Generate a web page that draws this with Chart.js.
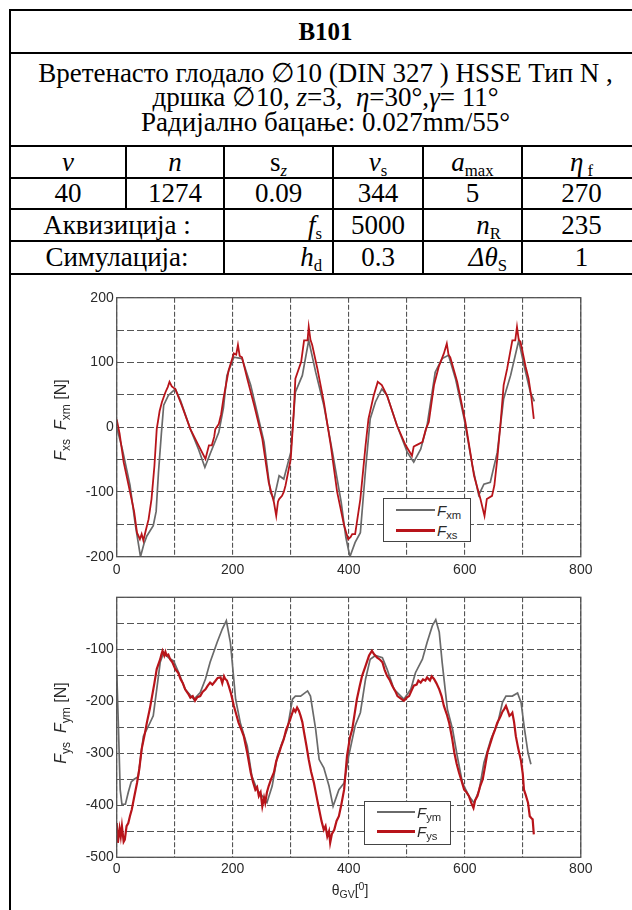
<!DOCTYPE html>
<html><head><meta charset="utf-8">
<script src="https://cdn.jsdelivr.net/npm/chart.js@4.4.1/dist/chart.umd.min.js"></script>
<style>
html,body{margin:0;padding:0;background:#fff;}
body{width:632px;height:910px;overflow:hidden;position:relative;font-family:"Liberation Serif","Times New Roman",serif;color:#000;}
.cell{position:absolute;box-sizing:border-box;border-left:2px solid #000;border-top:2px solid #000;display:flex;align-items:center;justify-content:center;font-size:27px;white-space:nowrap;line-height:1;}
.r{justify-content:flex-end;}
.cell sub{font-size:62%;vertical-align:-0.3em;line-height:0;}
.desc{flex-direction:column;line-height:24.5px;text-align:center;padding-bottom:4px;}
.ovl{position:absolute;font-family:"Liberation Sans",Arial,sans-serif;color:#2a2a2a;white-space:nowrap;}
.ovl sub{font-size:75%;vertical-align:-0.3em;line-height:0;}
.ytitle{font-size:16px;transform:translate(-50%,-50%) rotate(-90deg);}
.leg{position:absolute;box-sizing:border-box;border:1px solid #444;background:#fff;}
.ll{position:absolute;height:2px;}
.lt{position:absolute;font-family:"Liberation Sans",Arial,sans-serif;font-size:15px;color:#2a2a2a;transform:translateY(-50%);white-space:nowrap;}
.lt sub{font-size:75%;vertical-align:-0.3em;line-height:0;}
canvas{position:absolute;}
</style>
</head>
<body>
<div id="tbl"></div>
<canvas id="c1" width="600" height="300" style="left:12px;top:282px;"></canvas>
<canvas id="c2" width="600" height="300" style="left:12px;top:582px;"></canvas>

<div class="ovl ytitle" style="left:61px;top:420px;"><i>F</i><sub>xs</sub>&nbsp;&nbsp;<i>F</i><sub>xm</sub> [N]</div>
<div class="ovl ytitle" style="left:61px;top:723px;"><i>F</i><sub>ys</sub>&nbsp;&nbsp;<i>F</i><sub>ym</sub> [N]</div>
<div class="ovl" style="left:350px;top:889px;transform:translate(-50%,-50%);font-size:14px;">θ<sub>GV</sub>[<sup style="font-size:75%">0</sup>]</div>

<div class="leg" style="left:383px;top:498px;width:88px;height:44px;"></div>
<div class="ll" style="left:396px;top:509px;width:39px;background:#6a6a6a;"></div>
<div class="ll" style="left:396px;top:529px;width:39px;background:#b8141a;height:2.5px;"></div>
<div class="lt" style="left:437px;top:510px;"><i>F</i><sub>xm</sub></div>
<div class="lt" style="left:437px;top:530px;"><i>F</i><sub>xs</sub></div>

<div class="leg" style="left:364px;top:801px;width:87px;height:44px;"></div>
<div class="ll" style="left:377px;top:811px;width:38px;background:#6a6a6a;"></div>
<div class="ll" style="left:377px;top:830px;width:38px;background:#b8141a;height:2.5px;"></div>
<div class="lt" style="left:417px;top:812px;"><i>F</i><sub>ym</sub></div>
<div class="lt" style="left:417px;top:831px;"><i>F</i><sub>ys</sub></div>

<script>
// ---------- table texts ----------
const tableTitle = "B101";
const descLines = [
  "Вретенасто глодало ∅10 (DIN 327 ) HSSE Тип N ,",
  "дршка ∅10, <i>z</i>=3, &nbsp;<i>η</i>=30°,<i>γ</i>= 11°",
  "Радијално бацање: 0.027mm/55°"
];
const headerCells = ["<i>v</i>", "<i>n</i>", "s<sub><i>z</i></sub>", "<i>v</i><sub>s</sub>", "<i>a</i><sub>max</sub>", "<i>η</i><sub> f</sub>"];
const valueCells = ["40", "1274", "0.09", "344", "5", "270"];
const acqRow = ["Аквизиција :", "<i>f</i><sub>s</sub>", "5000", "<i>n</i><sub>R</sub>", "235"];
const simRow = ["Симулација:", "<i>h</i><sub>d</sub>", "0.3", "<i>Δθ</i><sub>S</sub>", "1"];

// ---------- chart data (angle in degrees, force in N) ----------
const xTicks = [0, 200, 400, 600, 800];
const yTicks1 = [-200, -100, 0, 100, 200];
const yTicks2 = [-500, -400, -300, -200, -100];

const fxmDeg = [0,10,23,32,41,47,52,63,68,72,77,81,89,101,110,127,141,152,162,176,184,190,202,216,231,242,254,265,271,280,288,300,308,320,331,343,357,372,387,395,402,411,420,429,437,446,457,466,483,501,512,524,535,549,561,572,584,599,613,624,633,644,656,667,679,693,702,713,720];
const fxmVal = [0,-35,-90,-150,-200,-180,-168,-152,-130,-70,-10,34,49,59,41,-3,-34,-62,-39,-8,30,80,108,106,65,23,-23,-101,-111,-75,-80,-39,54,80,134,85,34,-39,-116,-170,-200,-178,-163,-65,13,39,59,49,3,-39,-54,-34,3,85,106,111,75,13,-59,-105,-88,-85,-39,44,80,134,96,54,40];

const fxsDeg = [0,5,12,23,30,35,40,43,46,50,55,60,65,69,74,78,84,88,91,95,101,112,127,141,153,157,159,164,168,170,176,180,184,193,202,206,209,212,216,225,237,251,262,271,275,278,280,285,288,291,300,305,308,318,323,329,331,334,337,346,357,369,380,392,399,403,406,411,420,429,434,443,450,457,466,483,498,509,512,516,527,533,538,547,555,564,569,572,575,587,601,616,627,634,638,647,651,656,662,667,673,682,687,690,693,696,705,710,715,719];
const fxsVal = [12,-10,-54,-100,-130,-163,-173,-165,-175,-160,-142,-111,-60,-3,25,39,54,62,70,63,59,34,-3,-28,-49,-35,-28,-28,-15,-3,5,20,44,88,114,112,127,110,108,75,34,-18,-85,-116,-137,-115,-111,-106,-100,-90,-49,20,75,101,134,134,155,135,127,90,39,-28,-100,-152,-173,-170,-165,-165,-111,-28,13,49,70,65,49,3,-28,-44,-30,-28,-23,-3,8,65,93,114,129,112,108,70,8,-75,-111,-137,-111,-106,-90,-49,10,65,90,134,134,155,135,132,93,75,45,13];

const fymDeg = [0,3,6,9,15,20,25,30,37,46,55,63,69,75,81,89,98,107,118,133,144,153,161,173,182,189,196,205,213,225,233,242,251,259,268,277,285,294,303,308,317,329,334,343,349,357,366,373,383,392,400,411,420,429,437,446,458,466,478,495,507,515,527,535,544,550,556,561,570,579,587,596,607,616,625,633,645,657,665,671,682,691,697,703,709,714];
const fymVal = [-140,-250,-370,-398,-398,-375,-355,-350,-345,-267,-247,-228,-177,-125,-106,-116,-122,-145,-177,-196,-183,-157,-125,-87,-61,-45,-87,-196,-241,-286,-344,-370,-382,-395,-363,-305,-280,-254,-196,-190,-190,-180,-190,-254,-312,-328,-363,-402,-370,-357,-305,-247,-222,-157,-119,-112,-116,-138,-177,-196,-177,-145,-119,-87,-55,-43,-67,-125,-215,-254,-305,-357,-382,-395,-370,-318,-273,-241,-202,-190,-190,-184,-202,-254,-299,-321];

const fysDeg = [0,2,5,7,9,12,14,17,20,23,26,30,35,39,43,48,52,57,61,65,69,75,77,79,82,84,86,89,92,96,101,106,110,114,118,123,127,131,135,139,144,148,153,157,161,165,170,174,179,182,185,187,190,193,197,202,206,210,215,219,225,231,235,239,242,245,248,251,254,256,259,262,266,271,275,280,284,288,292,297,301,305,308,311,314,317,320,323,327,331,335,340,344,349,353,357,360,363,366,368,371,375,379,383,387,392,397,402,406,410,414,419,423,429,435,440,444,449,454,458,462,466,471,475,480,484,490,495,500,504,508,512,517,520,524,528,532,535,540,543,547,551,556,560,564,569,573,578,582,586,590,595,599,603,607,611,615,618,622,626,631,635,639,643,648,652,656,659,662,665,668,671,674,677,680,682,685,688,692,697,700,702,705,709,712,715,717,719];
const fysVal = [-434,-472,-445,-460,-440,-470,-466,-440,-434,-420,-408,-385,-357,-330,-292,-265,-241,-215,-190,-165,-138,-119,-110,-103,-112,-105,-112,-110,-119,-125,-138,-145,-157,-165,-177,-185,-193,-190,-199,-192,-190,-182,-177,-170,-164,-168,-161,-155,-154,-165,-152,-157,-160,-170,-185,-209,-225,-241,-255,-267,-299,-337,-355,-370,-365,-382,-375,-402,-385,-395,-375,-363,-350,-337,-315,-299,-285,-273,-255,-241,-228,-215,-220,-212,-218,-228,-240,-260,-285,-312,-335,-357,-380,-408,-430,-447,-440,-460,-450,-472,-455,-447,-430,-421,-400,-370,-305,-270,-254,-225,-196,-170,-151,-132,-112,-103,-110,-116,-120,-125,-140,-151,-160,-170,-180,-190,-195,-199,-193,-190,-180,-170,-168,-160,-164,-158,-160,-154,-160,-152,-157,-165,-177,-190,-209,-225,-241,-270,-299,-320,-337,-355,-370,-375,-382,-395,-405,-390,-382,-365,-350,-325,-299,-285,-267,-255,-241,-235,-228,-220,-215,-209,-218,-228,-225,-222,-240,-267,-290,-315,-340,-370,-380,-395,-421,-425,-427,-456];

// ---------- build table ----------
const colX = [9,125,223,332,422,521,640];
const rowY = [9,52,145,177,208,240,273];
const tbl = document.getElementById('tbl');
function cell(x0,x1,y0,y1,html,extra,style){
  const d=document.createElement('div');
  d.className='cell'+(extra?' '+extra:'');
  d.style.left=x0+'px';d.style.top=y0+'px';d.style.width=(x1-x0)+'px';d.style.height=(y1-y0)+'px';
  if(style) d.setAttribute('style', d.getAttribute('style')+';'+style);
  d.innerHTML=html;tbl.appendChild(d);return d;
}
cell(colX[0],colX[6],rowY[0],rowY[1],'<b>'+tableTitle+'</b>','', 'font-size:25px');
cell(colX[0],colX[6],rowY[1],rowY[2],descLines.map(s=>'<div>'+s+'</div>').join(''),'desc');
for(let i=0;i<6;i++){
  cell(colX[i],colX[i+1],rowY[2],rowY[3],'<span>'+headerCells[i]+'</span>');
  cell(colX[i],colX[i+1],rowY[3],rowY[4],'<span>'+valueCells[i]+'</span>');
}
function labelRow(row,y0,y1,pads){
  cell(colX[0],colX[2],y0,y1,'<span>'+row[0]+'</span>');
  cell(colX[2],colX[3],y0,y1,'<span>'+row[1]+'</span>','r','padding-right:'+pads[0]+'px');
  cell(colX[3],colX[4],y0,y1,'<span>'+row[2]+'</span>');
  cell(colX[4],colX[5],y0,y1,'<span>'+row[3]+'</span>','r','padding-right:'+pads[1]+'px');
  cell(colX[5],colX[6],y0,y1,'<span>'+row[4]+'</span>');
}
labelRow(acqRow,rowY[4],rowY[5],[10,20]);
labelRow(simRow,rowY[5],rowY[6],[10,14]);
cell(colX[0],colX[6],rowY[6],930,'');

// ---------- charts ----------
const zip=(xs,ys)=>xs.map((x,i)=>({x:x,y:ys[i]}));
const boxPlugin={id:'box',afterDraw(c){const a=c.chartArea,ctx=c.ctx;ctx.save();ctx.strokeStyle='#555';ctx.lineWidth=1.3;ctx.strokeRect(a.left,a.top,a.right-a.left,a.bottom-a.top);ctx.restore();}};
const tickFont={family:'"Liberation Sans", Arial, sans-serif',size:14};
const gridColor='rgba(55,55,55,0.85)';

function makeChart(id,dsRed,dsGray,yMin,yMax,yLabels,geo){
  return new Chart(document.getElementById(id),{
    type:'line',
    data:{datasets:[
      {data:dsRed,borderColor:'#b8141a',borderWidth:geo.redW,pointRadius:0,tension:0,fill:false},
      {data:dsGray,borderColor:'#6a6a6a',borderWidth:1.7,pointRadius:0,tension:0,fill:false}
    ]},
    options:{
      responsive:false,animation:false,
      layout:{padding:{left:0,top:geo.top,right:geo.right,bottom:0}},
      plugins:{legend:{display:false},tooltip:{enabled:false}},
      scales:{
        x:{type:'linear',min:0,max:800,
          ticks:{stepSize:100,autoSkip:false,maxRotation:0,padding:geo.xpad,color:'#2a2a2a',font:tickFont,
            callback:v=>xTicks.includes(v)?String(v):''},
          grid:{color:gridColor,lineWidth:1.1,drawTicks:false},
          border:{display:false,dash:[5,2]},
          afterFit:s=>{s.height=geo.xh;}
        },
        y:{type:'linear',min:yMin,max:yMax,
          ticks:{stepSize:50,autoSkip:false,padding:3,color:'#2a2a2a',font:tickFont,
            callback:v=>yLabels.includes(v)?String(v):''},
          grid:{color:gridColor,lineWidth:1.1,drawTicks:false},
          border:{display:false,dash:[7,3]},
          afterFit:s=>{s.width=geo.yw;}
        }
      }
    },
    plugins:[boxPlugin]
  });
}
makeChart('c1',zip(fxsDeg,fxsVal),zip(fxmDeg,fxmVal),-200,200,yTicks1,
  {top:15.7,right:31.2,xh:25.3,yw:104.7,xpad:5,redW:1.8});
makeChart('c2',zip(fysDeg,fysVal),zip(fymDeg,fymVal),-500,0,yTicks2,
  {top:15.3,right:31.2,xh:24.7,yw:104.7,xpad:3,redW:2.2});
</script>
</body></html>
